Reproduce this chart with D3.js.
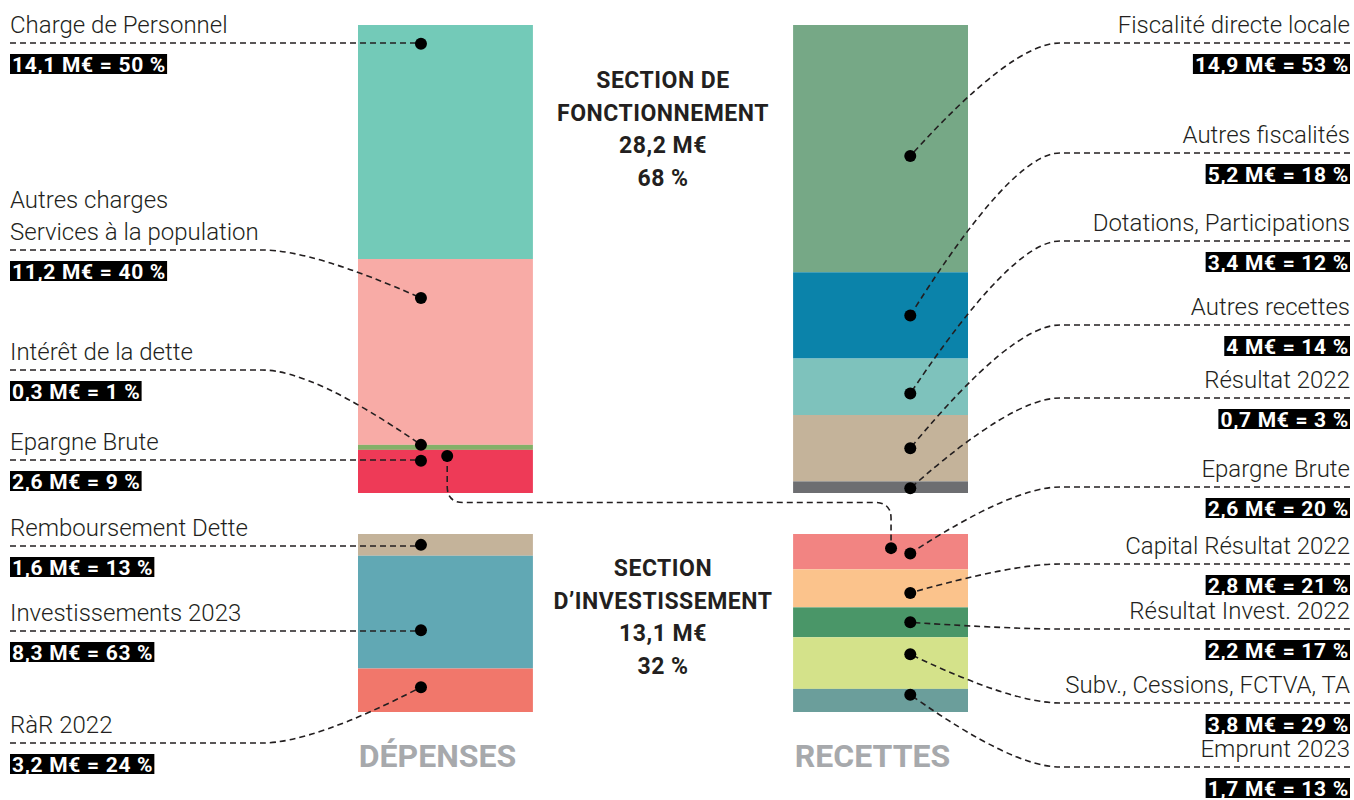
<!DOCTYPE html>
<html lang="fr">
<head>
<meta charset="utf-8">
<script src="https://cdn.jsdelivr.net/npm/d3@7/dist/d3.min.js"></script>
<style>
  html, body { margin: 0; padding: 0; background: #ffffff; }
  svg { display: block; }
</style>
</head>
<body>
<svg id="chart" width="1354" height="800"></svg>
<script>
// ---------------- DATA ----------------
const columns = ["DÉPENSES", "RECETTES"];
const sections = ["SECTION DE\nFONCTIONNEMENT", "SECTION\nD’INVESTISSEMENT"];
const sectionPct = [68, 32];

const depFoncCats = ["Charge de Personnel", "Autres charges\nServices à la population", "Intérêt de la dette", "Epargne Brute"];
const depFoncVals = [14.1, 11.2, 0.3, 2.6];
const depFoncPct  = [50, 40, 1, 9];

const depInvCats = ["Remboursement Dette", "Investissements 2023", "RàR 2022"];
const depInvVals = [1.6, 8.3, 3.2];
const depInvPct  = [13, 63, 24];

const recFoncCats = ["Fiscalité directe locale", "Autres fiscalités", "Dotations, Participations", "Autres recettes", "Résultat 2022"];
const recFoncVals = [14.9, 5.2, 3.4, 4, 0.7];
const recFoncPct  = [53, 18, 12, 14, 3];

const recInvCats = ["Epargne Brute", "Capital Résultat 2022", "Résultat Invest. 2022", "Subv., Cessions, FCTVA, TA", "Emprunt 2023"];
const recInvVals = [2.6, 2.8, 2.2, 3.8, 1.7];
const recInvPct  = [20, 21, 17, 29, 13];

// ---------------- STYLE / LAYOUT ----------------
const depFoncColors = ["#73cab8", "#f8aba6", "#83b068", "#ee3a57"];
const depInvColors  = ["#c4b39a", "#61a8b4", "#f1776b"];
const recFoncColors = ["#76a886", "#0b83aa", "#7ec2bc", "#c4b39a", "#6d6e71"];
const recInvColors  = ["#f28482", "#fbc38c", "#4a9668", "#d4e28a", "#6b9e9b"];

// y of each label's dashed rule
const depFoncLineY = [43, 250, 370, 460];
const depInvLineY  = [546, 631, 743];
const recFoncLineY = [43, 153, 241, 325, 398];
const recInvLineY  = [487, 564, 629, 703, 767];
// where inside its segment the leader dot sits (fraction of the segment)
const depFoncDotAt = [0.08, 0.21, 0.0, 0.25];
const depInvDotAt  = [0.5, 0.66, 0.43];
const recFoncDotAt = [0.53, 0.5, 0.62, 0.5, 0.6];
const recInvDotAt  = [0.55, 0.62, 0.5, 0.33, 0.25];

const INK = "#231f20";
const LABEL_FONT = "Roboto, 'Noto Sans', sans-serif";
const VALUE_FONT = "Roboto, 'DejaVu Sans', sans-serif";

const locale = d3.formatLocale({decimal: ",", thousands: " ", grouping: [3], currency: ["", " M€"]});
const fmtNum = v => locale.format(",.1~f")(v);
const valueText = (v, p) => `${fmtNum(v)} M€ = ${p} %`;

const svg = d3.select("#chart");

// ---------------- SCALES ----------------
const x = d3.scaleBand().domain(columns).range([358, 968]).paddingInner(0.598).paddingOuter(0);
const foncTotal = d3.sum(depFoncVals);
const invTotal = d3.sum(depInvVals);
const yFonc = d3.scaleLinear().domain([0, foncTotal]).range([25, 493]);
const yInv  = d3.scaleLinear().domain([0, invTotal]).range([534, 712]);

function stack(cats, vals, pct, colors, lineY, dotAt) {
  let acc = 0;
  return cats.map((c, i) => {
    const d = {cat: c, v: vals[i], p: pct[i], color: colors[i], lineY: lineY[i], dotAt: dotAt[i], y0: acc, y1: acc + vals[i]};
    acc += vals[i];
    return d;
  });
}

const groups = [
  {col: "DÉPENSES", side: "left",  y: yFonc, items: stack(depFoncCats, depFoncVals, depFoncPct, depFoncColors, depFoncLineY, depFoncDotAt)},
  {col: "DÉPENSES", side: "left",  y: yInv,  items: stack(depInvCats, depInvVals, depInvPct, depInvColors, depInvLineY, depInvDotAt)},
  {col: "RECETTES", side: "right", y: yFonc, items: stack(recFoncCats, recFoncVals, recFoncPct, recFoncColors, recFoncLineY, recFoncDotAt)},
  {col: "RECETTES", side: "right", y: yInv,  items: stack(recInvCats, recInvVals, recInvPct, recInvColors, recInvLineY, recInvDotAt)}
];

// ---------------- BARS ----------------
const barsG = svg.append("g");
groups.forEach(g => {
  barsG.selectAll(null).data(g.items).enter().append("rect")
    .attr("x", x(g.col))
    .attr("width", x.bandwidth())
    .attr("y", d => g.y(d.y0))
    .attr("height", d => g.y(d.y1) - g.y(d.y0))
    .attr("fill", d => d.color);
});

// ---------------- LEADERS & LABELS ----------------
const leadG = svg.append("g");
const dotG = svg.append("g");
const textG = svg.append("g");

const LEFT_X = 10, RIGHT_X = 1350;
const LEFT_BEND = 262, RIGHT_BEND = 1060;

groups.forEach(g => {
  const left = g.side === "left";
  const dotX = x(g.col) + x.bandwidth() * (left ? 0.36 : 0.67);
  g.items.forEach(d => {
    const dotY = g.y(d.y0 + d.v * d.dotAt);
    const ly = d.lineY;
    let path;
    const startX = left ? LEFT_X : RIGHT_X;
    if (Math.abs(dotY - ly) < 3) {
      path = `M${startX},${ly}H${dotX}`;
    } else {
      const bend = left ? LEFT_BEND : RIGHT_BEND;
      const dx = dotX - bend;
      path = `M${startX},${ly}H${bend}Q${bend + dx * 0.32},${ly} ${dotX},${dotY}`;
    }
    leadG.append("path").attr("d", path)
      .attr("fill", "none").attr("stroke", INK).attr("stroke-width", 1.6)
      .attr("stroke-dasharray", "6,4");
    dotG.append("circle").attr("cx", dotX).attr("cy", dotY).attr("r", 6).attr("fill", "#000");

    // category label (may be multi-line)
    const lines = d.cat.split("\n");
    lines.forEach((t, k) => {
      textG.append("text")
        .attr("x", startX)
        .attr("y", ly - 10 - (lines.length - 1 - k) * 32)
        .attr("text-anchor", left ? "start" : "end")
        .attr("font-family", LABEL_FONT).attr("font-weight", 300)
        .attr("font-size", 24).attr("fill", INK)
        .text(t);
    });
    // value box
    const vt = textG.append("text")
      .attr("y", ly + 28.5)
      .attr("font-family", VALUE_FONT).attr("font-weight", 700)
      .attr("font-size", 21).attr("letter-spacing", 0.7).attr("fill", "#fff")
      .text(valueText(d.v, d.p));
    const w = vt.node().getComputedTextLength();
    const bx = left ? startX : startX - w - 3;
    vt.attr("x", bx + 2);
    textG.insert("rect", () => vt.node())
      .attr("x", bx).attr("y", ly + 11).attr("width", w + 3).attr("height", 20)
      .attr("fill", "#000");
  });
});

// transfer of "Epargne Brute" from dépenses (fonct.) to recettes (invest.)
{
  const dep = groups[0].items[3], rec = groups[3].items[0];
  const sx = x("DÉPENSES") + x.bandwidth() * 0.51;
  const sy = yFonc(dep.y0 + dep.v * 0.14);
  const ex = x("RECETTES") + x.bandwidth() * 0.56;
  const ey = yInv(rec.y0 + rec.v * 0.4);
  const hy = (yFonc.range()[1] + yInv.range()[0]) / 2 - 11;
  const r = 16;
  const p = `M${sx},${sy}V${hy - r}Q${sx},${hy} ${sx + r},${hy}H${ex - r}Q${ex},${hy} ${ex},${hy + r}V${ey}`;
  leadG.append("path").attr("d", p).attr("fill", "none").attr("stroke", INK)
    .attr("stroke-width", 1.6).attr("stroke-dasharray", "6,4");
  dotG.append("circle").attr("cx", sx).attr("cy", sy).attr("r", 6).attr("fill", "#000");
  dotG.append("circle").attr("cx", ex).attr("cy", ey).attr("r", 6).attr("fill", "#000");
}

// ---------------- SECTION TITLES ----------------
const cx = (x("DÉPENSES") + x.bandwidth() + x("RECETTES")) / 2;
const secTotals = [foncTotal, invTotal];
const secTop = [88, 576];
sections.forEach((s, i) => {
  const lines = s.split("\n").concat([`${fmtNum(secTotals[i])} M€`, `${sectionPct[i]} %`]);
  lines.forEach((t, k) => {
    textG.append("text")
      .attr("x", cx).attr("y", secTop[i] + k * 32.5)
      .attr("text-anchor", "middle")
      .attr("font-family", VALUE_FONT).attr("font-weight", 700)
      .attr("font-size", 23).attr("letter-spacing", 0.5).attr("fill", INK)
      .text(t);
  });
});

// ---------------- COLUMN TITLES ----------------
textG.selectAll(null).data(columns).enter().append("text")
  .attr("x", d => x(d) + x.bandwidth() / 2 - 8)
  .attr("y", 767)
  .attr("text-anchor", "middle")
  .attr("font-family", VALUE_FONT).attr("font-weight", 700)
  .attr("font-size", 32).attr("fill", "#a7a9ac")
  .text(d => d);
</script>
</body>
</html>
